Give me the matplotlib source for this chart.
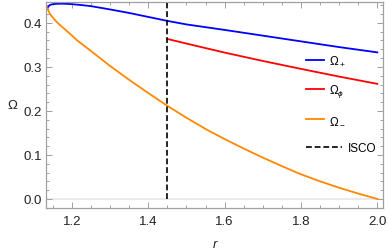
import numpy as np
import matplotlib
matplotlib.use("Agg")
import matplotlib.pyplot as plt
from matplotlib.ticker import MultipleLocator, FormatStrFormatter

plt.rcParams['font.family'] = ['Liberation Sans', 'DejaVu Sans']
plt.rcParams['mathtext.fontset'] = 'custom'
plt.rcParams['mathtext.rm'] = 'Liberation Sans'
plt.rcParams['mathtext.it'] = 'Liberation Sans:italic'

# values
r_plus = [1.136, 1.138, 1.142, 1.148, 1.158, 1.17, 1.185, 1.2, 1.225, 1.25,
          1.3, 1.35, 1.4, 1.45, 1.5, 1.6, 1.7, 1.8, 1.9, 2.0]
omega_plus = [0.433, 0.437, 0.4405, 0.4422, 0.4432, 0.4436, 0.4433, 0.4425, 0.4405, 0.438,
              0.4305, 0.4225, 0.4135, 0.4045, 0.3965, 0.384, 0.371, 0.358, 0.345, 0.333]

r_minus = [1.136, 1.138, 1.142, 1.148, 1.16, 1.17, 1.19, 1.214, 1.25, 1.3,
           1.35, 1.4, 1.45, 1.5, 1.55, 1.6, 1.65, 1.7, 1.75, 1.8,
           1.85, 1.9, 1.95, 2.0]
omega_minus = [0.433, 0.428, 0.421, 0.414, 0.402, 0.394, 0.379, 0.360, 0.336, 0.302,
               0.2705, 0.2405, 0.2115, 0.1845, 0.159, 0.136, 0.1145, 0.094, 0.0745, 0.056,
               0.040, 0.0255, 0.0122, 0.0]

r_phi = [1.45, 1.5, 1.6, 1.7, 1.8, 1.9, 2.0]
omega_phi = [0.3635, 0.353, 0.3325, 0.3135, 0.2955, 0.278, 0.2615]

r_isco = 1.45

fig = plt.figure(figsize=(3.88, 2.53), dpi=100)
ax = fig.add_axes([0.1186, 0.174, 0.8686, 0.8146])

frame_col = '#a0a0a0'
ax.axhline(0, color='#e6e6e6', lw=1.2, zorder=0)

l1, = ax.plot(r_plus, omega_plus, color='#0000ff', lw=1.3, label=r'$\Omega_+$')
l2, = ax.plot(r_phi, omega_phi, color='#ff0000', lw=1.3, label=r'$\Omega_\phi$')
l3, = ax.plot(r_minus, omega_minus, color='#ff8800', lw=1.3, label=r'$\Omega_-$')
l4 = ax.vlines(r_isco, 0, 0.46, color='black', lw=1.2, linestyles=(0, (3.5, 1.7)),
               label='ISCO')

ax.set_xlim(1.132, 2.015)
ax.set_ylim(-0.0205, 0.4477)

ax.xaxis.set_major_locator(MultipleLocator(0.2))
ax.xaxis.set_minor_locator(MultipleLocator(0.05))
ax.yaxis.set_major_locator(MultipleLocator(0.1))
ax.yaxis.set_minor_locator(MultipleLocator(0.02))
ax.xaxis.set_major_formatter(FormatStrFormatter('%.1f'))
ax.yaxis.set_major_formatter(FormatStrFormatter('%.1f'))

for s in ax.spines.values():
    s.set_color(frame_col)
    s.set_linewidth(0.9)
ax.tick_params(which='both', direction='in', top=True, right=True,
               color=frame_col, labelcolor='#222222', labelsize=9.5, width=0.7)
ax.tick_params(which='major', length=4)
ax.tick_params(which='minor', length=2.3)
ax.tick_params(axis='x', which='major', pad=5)
ax.tick_params(axis='y', which='major', pad=3)

ax.set_xlabel('r', fontsize=9.5, style='italic', color='#222222', labelpad=8)
ax.set_ylabel('Ω', fontsize=9.5, rotation=0, color='#222222', labelpad=8, va='center')

leg1 = ax.legend(handles=[l1, l2, l3], loc='center left', bbox_to_anchor=(0.771, 0.573),
                 frameon=False, fontsize=8.5, handlelength=1.55, handletextpad=0.4,
                 labelspacing=1.25, borderpad=0, borderaxespad=0)
ax.add_artist(leg1)
ax.legend(handles=[l4], loc='center left', bbox_to_anchor=(0.771, 0.29),
          frameon=False, fontsize=8.5, handlelength=3.1, handletextpad=0.5,
          borderpad=0, borderaxespad=0)

fig.savefig('out.png', dpi=100)
